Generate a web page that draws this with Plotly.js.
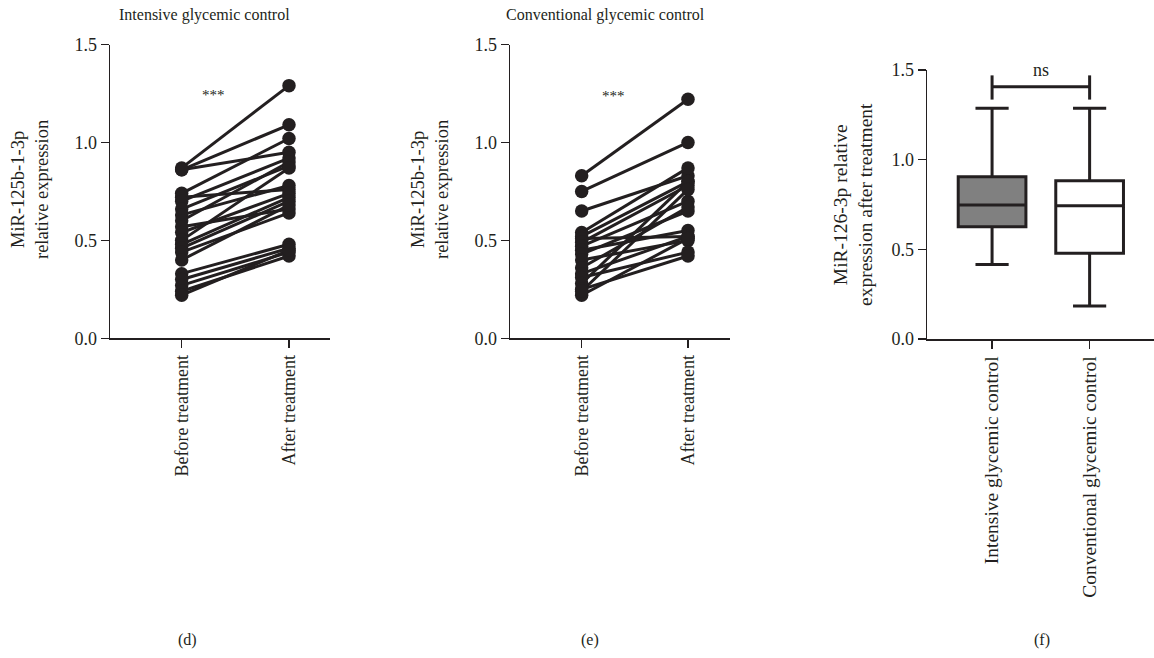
<!DOCTYPE html>
<html><head><meta charset="utf-8">
<script src="https://cdn.plot.ly/plotly-3.0.1.min.js"></script>
<style>html,body{margin:0;padding:0;background:#fff}#chart{width:1154px;height:658px}</style>
</head><body><div id="chart"></div>
<script>
// ---- data ----
var pairCategories = ["Before treatment", "After treatment"];
var intensiveBefore = [0.87,0.86,0.86,0.74,0.72,0.70,0.66,0.63,0.60,0.57,0.54,0.50,0.48,0.46,0.44,0.40,0.33,0.30,0.27,0.24,0.22];
var intensiveAfter  = [1.29,1.09,0.95,1.02,0.76,0.92,0.88,0.78,0.90,0.66,0.74,0.87,0.72,0.70,0.64,0.68,0.48,0.46,0.44,0.42,0.45];
var conventionalBefore = [0.83,0.75,0.65,0.54,0.52,0.51,0.49,0.47,0.45,0.43,0.40,0.36,0.33,0.31,0.28,0.25,0.22,0.24];
var conventionalAfter  = [1.22,1.00,0.83,0.87,0.80,0.52,0.78,0.70,0.55,0.65,0.50,0.67,0.52,0.44,0.80,0.42,0.51,0.76];
var boxCategories = ["Intensive glycemic control", "Conventional glycemic control"];
var boxLower  = [0.416, 0.184];
var boxQ1     = [0.626, 0.478];
var boxMedian = [0.747, 0.743];
var boxQ3     = [0.905, 0.883];
var boxUpper  = [1.287, 1.287];
var boxFill   = ["#808080", "#ffffff"];
var bracketY = 1.406, bracketLow = 1.335, bracketHigh = 1.47;
var yTicks = [0, 0.5, 1.0, 1.5];
var yTickText = ["0.0", "0.5", "1.0", "1.5"];

var ink = "#231f20";
var fontFam = "'Liberation Serif', 'Times New Roman', serif";

function pairTrace(before, after, xa, ya) {
  var xs = [], ys = [];
  for (var i = 0; i < before.length; i++) {
    xs.push(0, 1, null); ys.push(before[i], after[i], null);
  }
  return {type: "scatter", mode: "lines+markers", x: xs, y: ys, xaxis: xa, yaxis: ya,
    line: {color: ink, width: 3}, marker: {color: ink, size: 13.5}, hoverinfo: "none", showlegend: false, cliponaxis: false};
}

var traces = [
  pairTrace(intensiveBefore, intensiveAfter, "x", "y"),
  pairTrace(conventionalBefore, conventionalAfter, "x2", "y2")
];
for (var k = 0; k < 2; k++) {
  traces.push({type: "box", x: [k], q1: [boxQ1[k]], median: [boxMedian[k]], q3: [boxQ3[k]],
    lowerfence: [boxLower[k]], upperfence: [boxUpper[k]], width: 0.694, whiskerwidth: 0.49,
    fillcolor: boxFill[k], line: {color: ink, width: 3}, xaxis: "x3", yaxis: "y3",
    showlegend: false, hoverinfo: "none", boxpoints: false});
}

function yAx(domain, anchor) {
  return {domain: domain, anchor: anchor, range: [0, 1.5], tickvals: yTicks, ticktext: yTickText,
    ticks: "outside", ticklen: 8, tickwidth: 1.5, tickcolor: ink, showline: true, linecolor: ink, linewidth: 1.5,
    showgrid: false, zeroline: false, tickfont: {family: fontFam, size: 18, color: ink}, fixedrange: true};
}
function xAx(domain, anchor, range, labels, fs) {
  return {domain: domain, anchor: anchor, range: range, tickvals: [0, 1], ticktext: labels, tickangle: -90,
    ticks: "outside", ticklen: 8, tickwidth: 1.5, tickcolor: ink, showline: true, linecolor: ink, linewidth: 1.5,
    showgrid: false, zeroline: false, tickfont: {family: fontFam, size: fs, color: ink}, fixedrange: true};
}

var yDomDE = [(658 - 338.3) / 658, (658 - 44.5) / 658];
var yDomF = [(658 - 339) / 658, (658 - 70) / 658];

function ann(x, y, text, size, angle) {
  return {xref: "paper", yref: "paper", x: x / 1154, y: 1 - y / 658, text: text, showarrow: false,
    font: {family: fontFam, size: size, color: ink}, textangle: angle || 0, xanchor: "center", yanchor: "middle"};
}

var layout = {
  width: 1154, height: 658, margin: {l: 0, r: 0, t: 0, b: 0},
  paper_bgcolor: "#fff", plot_bgcolor: "#fff", showlegend: false,
  xaxis: xAx([110 / 1154, 330 / 1154], "y", [-0.668, 1.382], pairCategories, 18),
  yaxis: yAx(yDomDE, "x"),
  xaxis2: xAx([510 / 1154, 730 / 1154], "y2", [-0.674, 1.395], pairCategories, 18),
  yaxis2: yAx(yDomDE, "x2"),
  xaxis3: xAx([927 / 1154, 1], "y3", [-0.667, 1.66], boxCategories, 19.5),
  yaxis3: yAx(yDomF, "x3"),
  annotations: [
    ann(204, 15, "Intensive glycemic control", 16),
    ann(605, 15, "Conventional glycemic control", 16),
    ann(30, 190, "MiR-125b-1-3p<br>relative expression", 18.5, -90),
    ann(430, 190, "MiR-125b-1-3p<br>relative expression", 18.5, -90),
    ann(853, 205, "MiR-126-3p relative<br>expression after treatment", 19.5, -90),
    {xref: "x", yref: "y", x: 0.3, y: 1.24, text: "***", showarrow: false, font: {family: fontFam, size: 15, color: ink}},
    {xref: "x2", yref: "y2", x: 0.3, y: 1.235, text: "***", showarrow: false, font: {family: fontFam, size: 15, color: ink}},
    {xref: "x3", yref: "y3", x: 0.5, y: 1.5, text: "ns", showarrow: false, yanchor: "middle", font: {family: fontFam, size: 18, color: ink}},
    ann(187, 640, "(d)", 16),
    ann(590, 640, "(e)", 16),
    ann(1042, 640, "(f)", 16)
  ],
  shapes: [
    {type: "line", xref: "x3", yref: "y3", x0: 0, x1: 1, y0: bracketY, y1: bracketY, line: {color: ink, width: 3}},
    {type: "line", xref: "x3", yref: "y3", x0: 0, x1: 0, y0: bracketLow, y1: bracketHigh, line: {color: ink, width: 3}},
    {type: "line", xref: "x3", yref: "y3", x0: 1, x1: 1, y0: bracketLow, y1: bracketHigh, line: {color: ink, width: 3}}
  ]
};
Plotly.newPlot("chart", traces, layout, {displayModeBar: false, staticPlot: true});
</script></body></html>
